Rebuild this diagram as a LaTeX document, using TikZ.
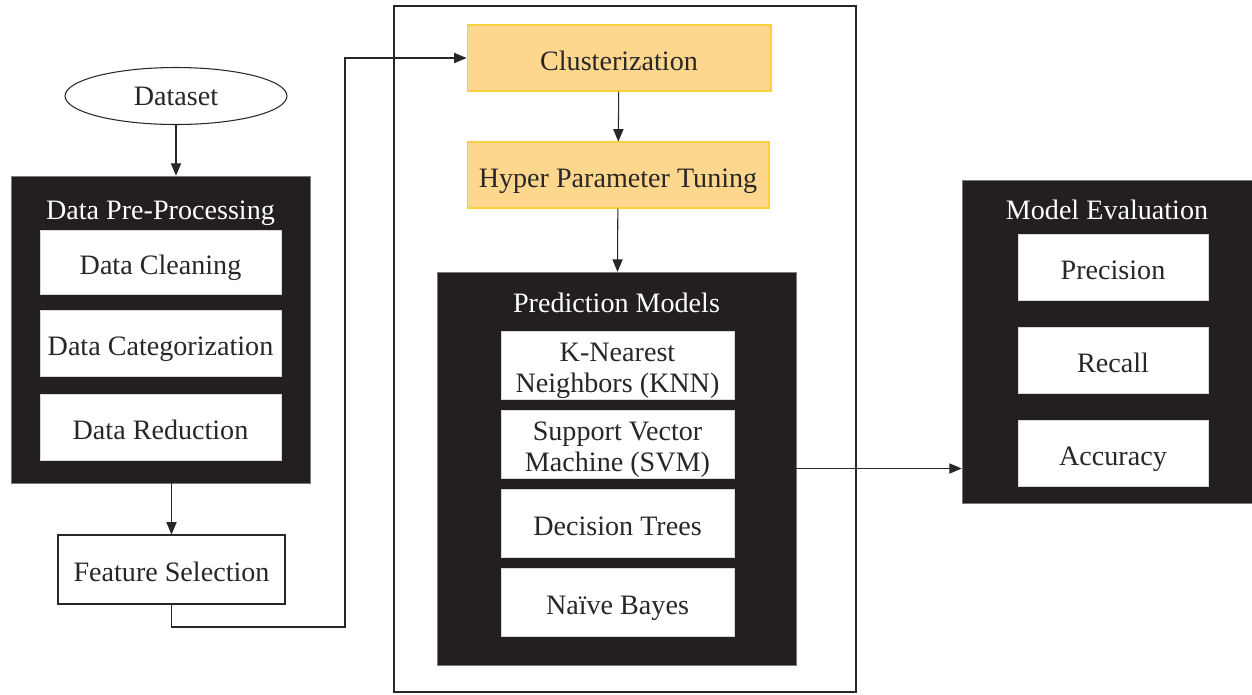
\documentclass[tikz,border=0pt]{standalone}
\usepackage{fontspec}
\setmainfont{Liberation Serif}
\usepackage{tikz}
\usetikzlibrary{arrows,shapes.geometric}
\definecolor{box_black}{RGB}{35,31,32}
\definecolor{edge_gray}{RGB}{120,120,120}
\definecolor{node_orange}{RGB}{254,215,142}
\definecolor{edge_gold}{RGB}{250,208,60}
\definecolor{text_dark}{RGB}{40,38,38}

\begin{document}
\begin{tikzpicture}[->,>=triangle 45,line width=0.6pt,x=0.02cm,y=-0.02cm]
    \tikzstyle{node}=[font=\fontsize{16}{18}\selectfont, text=text_dark, align=center, inner sep=0pt, text height=14pt, text depth=0pt]
    \tikzstyle{natural}=[text height={}, text depth={}]
    \tikzstyle{twoline}=[text height=25pt, text depth=10pt]
    \tikzstyle{panel}=[draw=edge_gray, fill=box_black, rectangle, line width=0.4pt]
    \tikzstyle{title}=[style=node, text=white]
    \tikzstyle{item}=[style=node, fill=white, draw=white!85!black, line width=0.3pt, rectangle]
    \tikzstyle{stagebox}=[style=node, fill=node_orange, draw=edge_gold, rectangle]
    \useasboundingbox (0,0) rectangle (1252,694);

    % left column
    \node[style=node, natural, draw=text_dark, ellipse, minimum width=4.44cm, minimum height=1.14cm] (ds) at (176,96) {Dataset};
    \node[panel, minimum width=5.98cm, minimum height=6.14cm] (pre) at (160.5,329.5) {};
    \node[title] (pret) at (160.5,207) {Data Pre-Processing};
    \node[item, minimum width=4.82cm, minimum height=1.28cm] (clean) at (160.5,262) {Data Cleaning};
    \node[item, minimum width=4.82cm, minimum height=1.32cm] (cat) at (160.5,343.5) {Data Categorization};
    \node[item, minimum width=4.82cm, minimum height=1.32cm] (red) at (160.5,427) {Data Reduction};
    \node[style=node, draw=text_dark, rectangle, minimum width=4.54cm, minimum height=1.38cm] (fs) at (171.5,569.5) {Feature Selection};
    \coordinate (bend) at (345,627);

    % middle column
    \draw[-, draw=text_dark] (394,6) rectangle (856,692);
    \node[stagebox, minimum width=6.08cm, minimum height=1.32cm] (clu) at (619,58) {Clusterization};
    \node[stagebox, minimum width=6.04cm, minimum height=1.32cm] (hpt) at (618,175) {Hyper Parameter Tuning};
    \node[panel, minimum width=7.18cm, minimum height=7.86cm] (pred) at (616.5,468.5) {};
    \node[title] (predt) at (616.5,300) {Prediction Models};
    \node[item, twoline, minimum width=4.66cm, minimum height=1.36cm] (knn) at (617.5,365)
      {\begin{tabular}{@{}c@{}}K-Nearest\\Neighbors (KNN)\end{tabular}};
    \node[item, twoline, minimum width=4.66cm, minimum height=1.36cm] (svm) at (617.5,444)
      {\begin{tabular}{@{}c@{}}Support Vector\\Machine (SVM)\end{tabular}};
    \node[item, minimum width=4.66cm, minimum height=1.36cm] (dt) at (617.5,523) {Decision Trees};
    \node[item, minimum width=4.66cm, minimum height=1.36cm] (nb) at (617.5,602.5) {Na\"ive Bayes};

    % right column
    \node[panel, minimum width=5.8cm, minimum height=6.46cm] (eval) at (1107,341.5) {};
    \node[title] (evalt) at (1107,207) {Model Evaluation};
    \node[item, minimum width=3.8cm, minimum height=1.32cm] (prec) at (1113,267) {Precision};
    \node[item, minimum width=3.8cm, minimum height=1.32cm] (rec) at (1113,360) {Recall};
    \node[item, minimum width=3.8cm, minimum height=1.32cm] (acc) at (1113,453) {Accuracy};

    \draw[draw=text_dark] (ds.south) -- (ds.south |- pre.north);
    \draw[draw=text_dark] (pre.south -| fs.north) -- (fs.north);
    \draw[draw=text_dark] (clu) -- (hpt);
    \draw[draw=text_dark] (hpt) -- (pred);
    \draw[draw=text_dark] (pred.east) -- (pred.east -| eval.west);
    \draw[draw=text_dark] (fs.south) |- (bend) |- (clu.west);
\end{tikzpicture}
\end{document}
